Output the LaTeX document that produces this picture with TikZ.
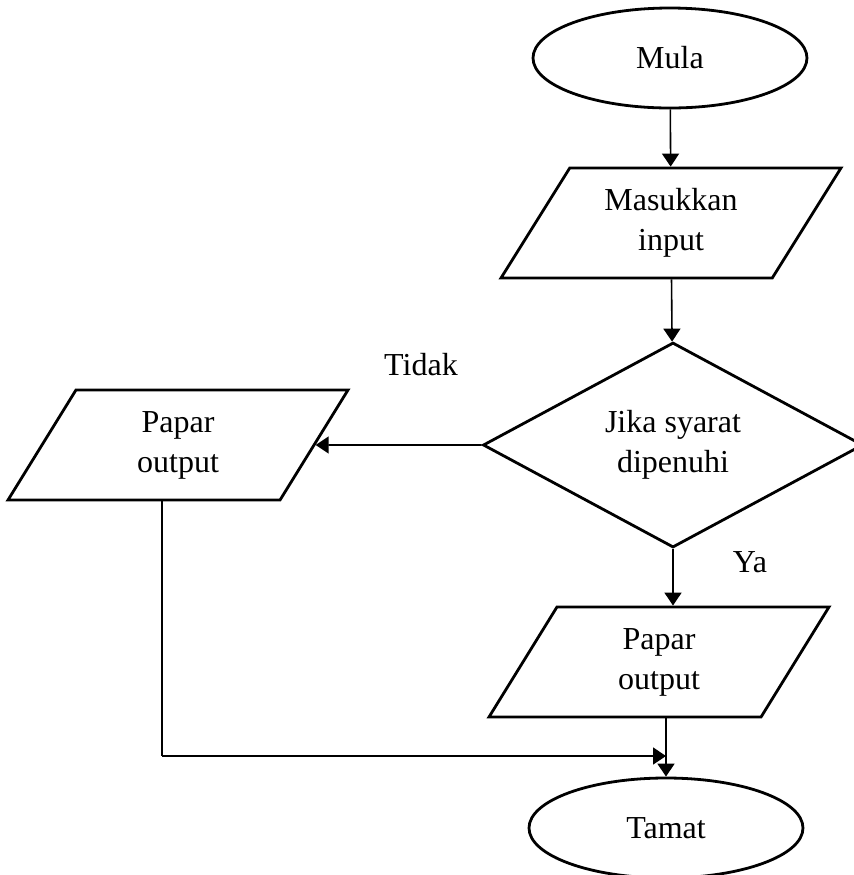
\documentclass[tikz,border=0pt]{standalone}
\usepackage{fontspec}
\setmainfont{Liberation Serif}
\usetikzlibrary{arrows.meta,shapes.geometric,positioning}

\begin{document}
\begin{tikzpicture}[x=0.5pt,y=-0.5pt,
	font=\fontsize{16}{20}\selectfont,
	term/.style={ellipse,draw,line width=1.4pt,minimum width=137pt,minimum height=50pt},
	io/.style={trapezium,trapezium left angle=58,trapezium right angle=122,trapezium stretches body,draw,line width=1.4pt,minimum width=170pt,minimum height=55pt,align=center,inner xsep=0pt,inner ysep=10.25pt},
	dec/.style={diamond,draw,line width=1.4pt,minimum width=190pt,minimum height=101pt,inner sep=0pt,align=center},
	arr/.style={line width=0.8pt,-{Triangle[length=6.5pt,width=8.5pt]}}]
			\useasboundingbox (0,0) rectangle (854,875);
			\node[term] (mula) at (670,58) {Mula};
			\node[io] (input) at (671,223) {Masukkan\\input};
			\node[dec] (syarat) at (673,445) {Jika syarat\\dipenuhi};
			\node[io] (tidak) at (178,445) {Papar\\output};
			\node[io] (ya) at (659,662) {Papar\\output};
			\node[term] (tamat) at (666,828) {Tamat};
			\coordinate (sudut) at (162,756);
			\draw[arr] (mula) -- (input);
			\draw[arr] (input) -- (syarat);
			\draw[arr] (syarat) -- (tidak);
			\draw[arr] (syarat.south) -- (syarat.south |- ya.north);
			\draw[arr] (tamat.north |- ya.south) -- (tamat);
			\draw[line width=0.8pt] (tidak.south -| sudut) -- (sudut);
			\draw[arr] (sudut) -- (sudut -| tamat.north);
			\node at (421,365) {Tidak};
			\node at (750,562) {Ya};
			\end{tikzpicture}
\end{document}
